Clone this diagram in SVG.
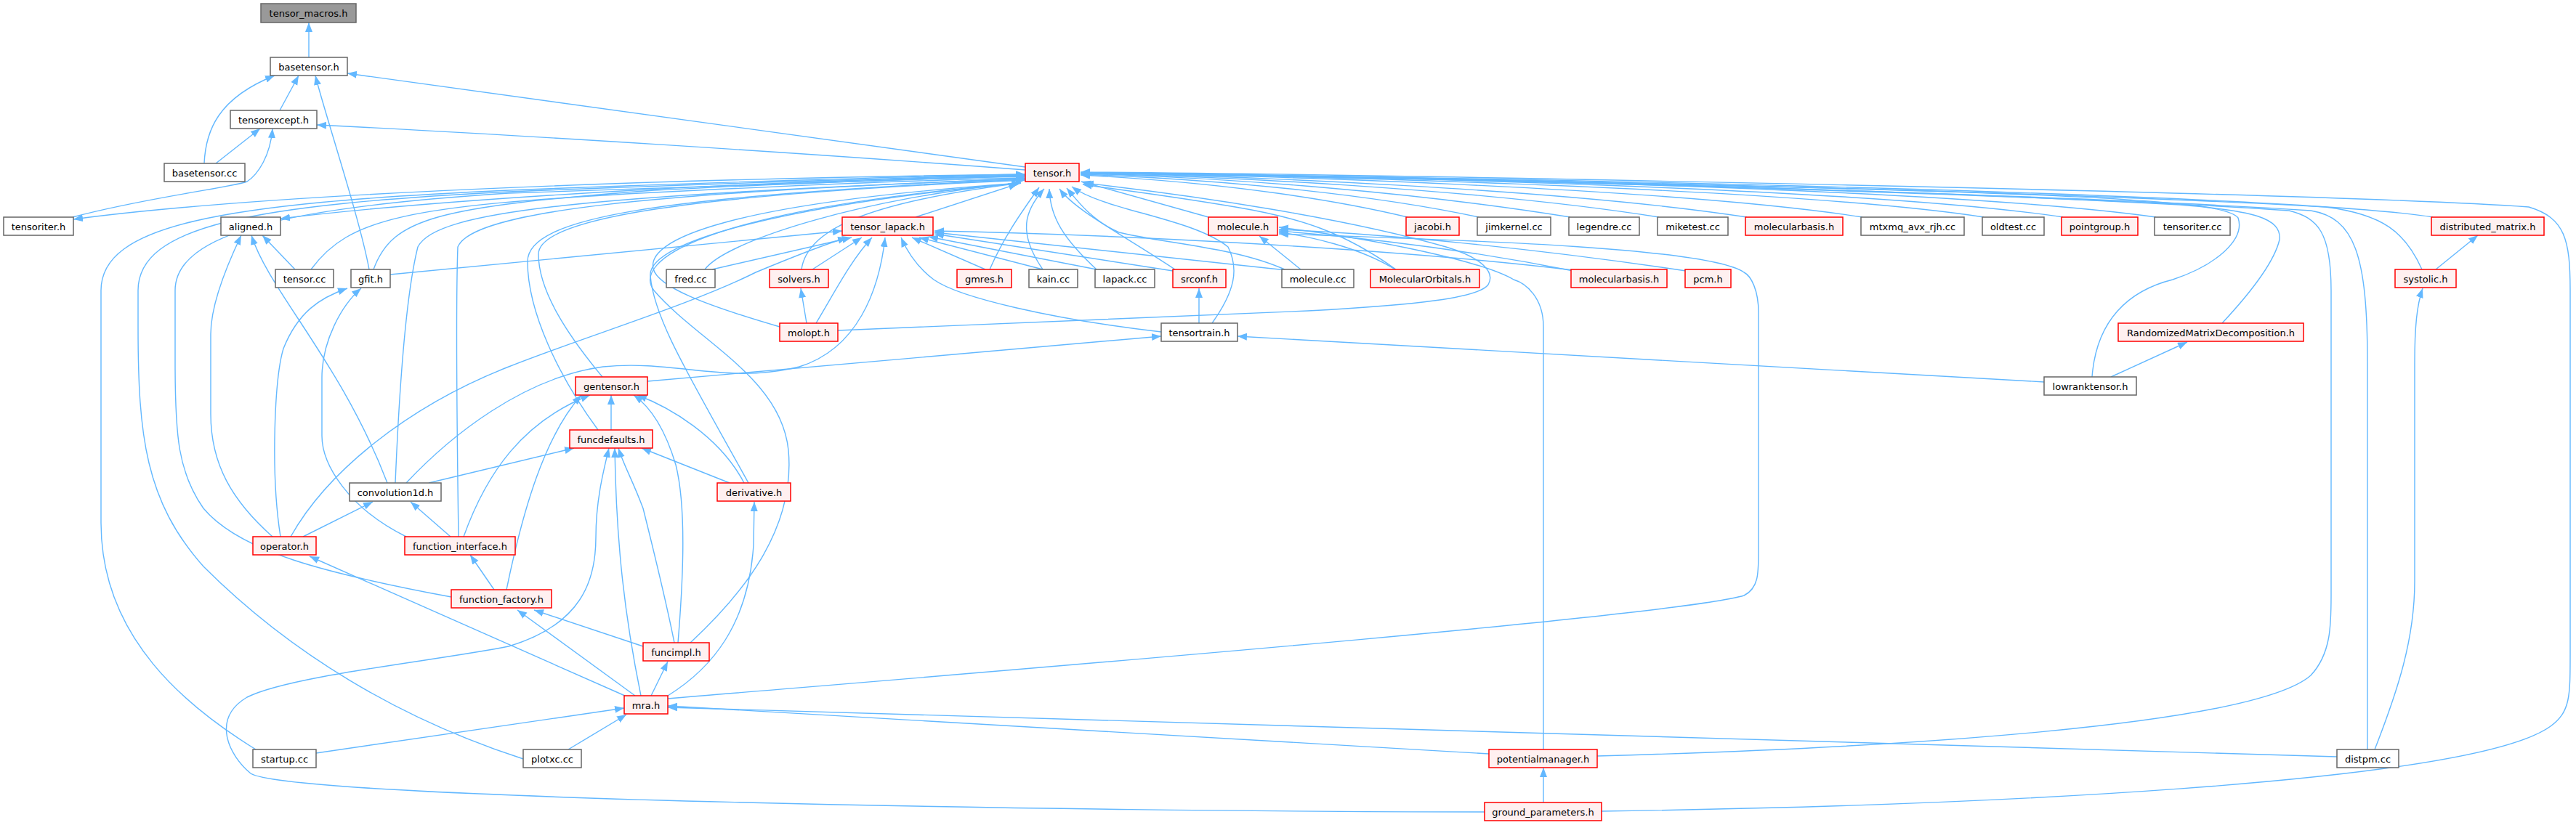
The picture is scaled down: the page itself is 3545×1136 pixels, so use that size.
<svg xmlns="http://www.w3.org/2000/svg" width="3545" height="1136" viewBox="0 0 3545 1136">
<defs>
<style>
.n rect{fill:#ffffff;stroke:#666666;stroke-width:1.5}
.r rect{fill:#fff0f0;stroke:#ff0000;stroke-width:1.5}
.s rect{fill:#999999;stroke:#666666;stroke-width:1.5}
text{font-family:"DejaVu Sans",sans-serif;font-size:13px;text-anchor:middle;fill:#000000}
#edges path{fill:none;stroke:#63b8ff;stroke-width:1.4;marker-end:url(#a)}
</style>
<marker id="a" markerWidth="14" markerHeight="12" refX="13" refY="5" orient="auto" markerUnits="userSpaceOnUse"><path d="M0,0 L13,5 L0,10 z" fill="#63b8ff" stroke="none"/></marker>
</defs>
<rect width="3545" height="1136" fill="#ffffff"/>
<g id="edges">
<path d="M425,79 L425,31"/>
<path d="M385,152 L411,104"/>
<path d="M281,225 C283,180 300,135 378,104"/>
<path d="M297,225 L358,177"/>
<path d="M100,299 C200,272 320,258 340,250 C355,240 372,215 375,177"/>
<path d="M508,371 C495,300 445,150 434,104"/>
<path d="M1411,230 L478,101"/>
<path d="M1411,234 C1100,210 700,185 436,172"/>
<path d="M1411,240 C1000,245 400,262 101,302"/>
<path d="M1411,242 C1000,250 600,275 386,301"/>
<path d="M406,371 L361,324"/>
<path d="M533,665 C470,500 370,400 346,324"/>
<path d="M375,739 C320,690 290,640 290,570 L290,460 C290,420 310,370 332,324"/>
<path d="M428,371 C480,300 560,283 900,265 C1100,255 1300,247 1411,245"/>
<path d="M514,371 C540,300 600,285 900,262 C1100,252 1300,245 1411,243"/>
<path d="M537,378 L1159,318"/>
<path d="M386,739 C372,650 378,520 390,480 C410,430 440,410 478,397"/>
<path d="M559,739 C480,700 443,640 443,600 L443,520 C443,470 470,420 497,397"/>
<path d="M544,665 C550,520 560,400 575,340 C600,290 800,270 1411,246"/>
<path d="M631,739 C629,600 627,420 630,340 C650,290 900,265 1411,246"/>
<path d="M823,592 C770,520 726,430 726,360 C726,300 900,270 1411,247"/>
<path d="M829,519 C780,460 741,400 741,350 C741,300 950,268 1411,248"/>
<path d="M1030,665 C950,520 900,440 895,380 C890,330 1100,280 1405,252"/>
<path d="M950,885 C1020,820 1095,730 1085,620 C1075,520 960,470 900,400 C870,360 960,290 1405,252"/>
<path d="M352,1032 C260,975 139,880 139,720 L139,400 C139,310 300,280 700,262 C1000,250 1300,242 1411,240"/>
<path d="M720,1045 C550,990 400,900 280,780 C200,690 190,600 190,450 L190,400 C190,310 350,282 700,264 C1000,252 1300,243 1411,241"/>
<path d="M621,822 C450,790 330,760 280,700 C245,650 241,600 241,500 L241,400 C241,320 400,285 700,266 C1000,254 1300,244 1411,242"/>
<path d="M970,371 C1000,330 1200,270 1405,252"/>
<path d="M1103,371 C1110,320 1180,280 1405,252"/>
<path d="M1073,450 C970,420 905,395 899,370 C890,330 1000,280 1405,252"/>
<path d="M1260,299 L1401,253"/>
<path d="M1362,371 C1380,330 1400,300 1430,258"/>
<path d="M1435,371 C1400,320 1410,290 1437,260"/>
<path d="M1509,371 C1465,330 1445,300 1444,260"/>
<path d="M1617,371 C1540,320 1480,290 1458,260"/>
<path d="M1668,445 C1700,400 1705,370 1690,340 C1640,300 1520,290 1475,257"/>
<path d="M1663,299 L1488,250"/>
<path d="M1770,372 C1700,340 1600,335 1540,320 C1505,305 1485,280 1468,259"/>
<path d="M1921,371 C1850,320 1790,300 1700,285 C1600,268 1530,260 1490,254"/>
<path d="M1937,299 C1850,278 1700,252 1487,241"/>
<path d="M2035,299 C1900,270 1700,248 1487,240"/>
<path d="M2161,299 C1950,265 1700,245 1487,239"/>
<path d="M2283,299 C2050,262 1700,243 1487,239"/>
<path d="M2404,299 C2150,260 1700,242 1487,238"/>
<path d="M2563,299 C2300,258 1700,240 1487,238"/>
<path d="M2730,299 C2450,256 1700,240 1487,238"/>
<path d="M2839,299 C2550,255 1700,239 1487,238"/>
<path d="M2967,299 C2650,254 1700,239 1487,238"/>
<path d="M3348,299 C3200,275 2500,250 1487,238"/>
<path d="M3333,371 C3310,320 3280,295 3200,285 C2800,262 1900,242 1487,238"/>
<path d="M2879,519 C2885,440 2930,400 2990,385 C3050,365 3090,330 3080,300 C3060,275 2900,262 1487,238"/>
<path d="M3058,445 C3100,400 3130,360 3137,330 C3140,300 3100,290 3000,282 C2600,260 1900,242 1487,238"/>
<path d="M3258,1032 L3258,500 C3258,350 3240,300 3180,290 C2800,265 1900,243 1487,238"/>
<path d="M2198,1041 C2600,1030 3100,1000 3180,930 C3208,900 3208,860 3208,820 L3208,400 C3208,320 3190,300 3150,290 C2800,266 1900,243 1487,238"/>
<path d="M2204,1117 C2700,1110 3400,1080 3510,1000 C3537,980 3537,960 3537,900 L3537,400 C3537,330 3530,300 3480,285 C3200,265 1900,240 1487,237"/>
<path d="M980,371 L1172,327"/>
<path d="M1118,371 L1186,327"/>
<path d="M1123,445 C1150,400 1170,360 1200,327"/>
<path d="M559,665 C620,600 720,520 830,505 C930,495 1000,530 1100,505 C1180,480 1210,400 1218,327"/>
<path d="M400,739 C450,650 560,560 700,505 C800,465 950,420 1040,375 C1100,350 1140,335 1166,327"/>
<path d="M1598,457 C1450,440 1320,410 1285,385 C1265,370 1250,350 1240,327"/>
<path d="M1356,371 L1255,327"/>
<path d="M1435,371 L1265,327"/>
<path d="M1509,371 L1278,326"/>
<path d="M1614,373 L1286,322"/>
<path d="M1770,372 L1286,320"/>
<path d="M2165,372 C1900,340 1500,322 1286,318"/>
<path d="M1790,371 L1733,325"/>
<path d="M1920,371 C1870,340 1800,325 1760,320"/>
<path d="M2165,373 C2000,340 1850,325 1760,318"/>
<path d="M2320,373 C2100,340 1900,322 1760,316"/>
<path d="M1153,455 L1800,428 C1950,420 2035,410 2048,392 C2058,375 2040,355 1990,340 C1850,300 1650,270 1492,252"/>
<path d="M2124,1032 L2124,450 C2124,410 2100,390 2083,385 C2040,360 1900,330 1760,313"/>
<path d="M919,962 C1300,930 2300,850 2400,820 C2420,810 2420,790 2420,760 L2420,430 C2420,400 2410,380 2400,375 C2350,340 2000,330 1760,322"/>
<path d="M1110,445 L1102,397"/>
<path d="M1650,445 L1650,397"/>
<path d="M891,525 L1598,463"/>
<path d="M2813,526 L1703,463"/>
<path d="M2905,519 L3010,471"/>
<path d="M3352,371 L3410,324"/>
<path d="M3268,1032 C3300,950 3323,880 3323,800 L3323,500 C3323,450 3326,420 3334,397"/>
<path d="M3216,1042 L919,974"/>
<path d="M2049,1038 L919,972"/>
<path d="M2124,1105 L2124,1057"/>
<path d="M2043,1118 C1500,1118 400,1100 345,1065 C315,1040 290,990 340,960 C400,930 600,910 700,890 C800,860 820,800 820,740 C820,690 830,650 838,617"/>
<path d="M841,592 L841,544"/>
<path d="M590,665 L790,617"/>
<path d="M620,739 L565,691"/>
<path d="M417,739 L513,691"/>
<path d="M638,739 C670,650 720,580 812,544"/>
<path d="M697,812 C720,700 750,600 800,544"/>
<path d="M680,812 L647,764"/>
<path d="M1004,665 L883,617"/>
<path d="M1024,665 C990,600 920,560 877,544"/>
<path d="M928,885 C915,820 900,760 885,700 C870,660 858,640 851,617"/>
<path d="M933,885 C940,800 945,700 930,640 C915,590 895,560 872,544"/>
<path d="M885,890 L735,840"/>
<path d="M896,958 L919,911"/>
<path d="M919,958 C980,920 1030,860 1037,750 L1038,691"/>
<path d="M860,958 L426,766"/>
<path d="M874,958 L712,840"/>
<path d="M882,958 C860,850 848,750 846,617"/>
<path d="M435,1037 L859,975"/>
<path d="M782,1032 L862,984"/>
</g>
<g id="n0" class="s"><rect x="359" y="5" width="131" height="26"/><text x="424.5" y="23">tensor_macros.h</text></g>
<g id="n1" class="n"><rect x="372" y="79" width="106" height="25"/><text x="425" y="96.5">basetensor.h</text></g>
<g id="n2" class="n"><rect x="317" y="152" width="119" height="25"/><text x="376.5" y="169.5">tensorexcept.h</text></g>
<g id="n3" class="n"><rect x="226" y="225" width="111" height="25"/><text x="281.5" y="242.5">basetensor.cc</text></g>
<g id="n4" class="r"><rect x="1411" y="225" width="74" height="25"/><text x="1448" y="242.5">tensor.h</text></g>
<g id="n5" class="n"><rect x="5" y="299" width="96" height="25"/><text x="53" y="316.5">tensoriter.h</text></g>
<g id="n6" class="n"><rect x="304" y="299" width="82" height="25"/><text x="345" y="316.5">aligned.h</text></g>
<g id="n7" class="r"><rect x="1159" y="299" width="125" height="25"/><text x="1221.5" y="316.5">tensor_lapack.h</text></g>
<g id="n8" class="r"><rect x="1663" y="299" width="95" height="25"/><text x="1710.5" y="316.5">molecule.h</text></g>
<g id="n9" class="r"><rect x="1935" y="299" width="73" height="25"/><text x="1971.5" y="316.5">jacobi.h</text></g>
<g id="n10" class="n"><rect x="2033" y="299" width="101" height="25"/><text x="2083.5" y="316.5">jimkernel.cc</text></g>
<g id="n11" class="n"><rect x="2159" y="299" width="97" height="25"/><text x="2207.5" y="316.5">legendre.cc</text></g>
<g id="n12" class="n"><rect x="2281" y="299" width="97" height="25"/><text x="2329.5" y="316.5">miketest.cc</text></g>
<g id="n13" class="r"><rect x="2402" y="299" width="134" height="25"/><text x="2469" y="316.5">molecularbasis.h</text></g>
<g id="n14" class="n"><rect x="2561" y="299" width="142" height="25"/><text x="2632" y="316.5">mtxmq_avx_rjh.cc</text></g>
<g id="n15" class="n"><rect x="2728" y="299" width="85" height="25"/><text x="2770.5" y="316.5">oldtest.cc</text></g>
<g id="n16" class="r"><rect x="2837" y="299" width="105" height="25"/><text x="2889.5" y="316.5">pointgroup.h</text></g>
<g id="n17" class="n"><rect x="2965" y="299" width="104" height="25"/><text x="3017" y="316.5">tensoriter.cc</text></g>
<g id="n18" class="r"><rect x="3346" y="299" width="155" height="25"/><text x="3423.5" y="316.5">distributed_matrix.h</text></g>
<g id="n19" class="n"><rect x="379" y="371" width="80" height="25"/><text x="419" y="388.5">tensor.cc</text></g>
<g id="n20" class="n"><rect x="483" y="371" width="54" height="25"/><text x="510" y="388.5">gfit.h</text></g>
<g id="n21" class="n"><rect x="917" y="371" width="67" height="25"/><text x="950.5" y="388.5">fred.cc</text></g>
<g id="n22" class="r"><rect x="1059" y="371" width="81" height="25"/><text x="1099.5" y="388.5">solvers.h</text></g>
<g id="n23" class="r"><rect x="1317" y="371" width="75" height="25"/><text x="1354.5" y="388.5">gmres.h</text></g>
<g id="n24" class="n"><rect x="1416" y="371" width="67" height="25"/><text x="1449.5" y="388.5">kain.cc</text></g>
<g id="n25" class="n"><rect x="1507" y="371" width="82" height="25"/><text x="1548" y="388.5">lapack.cc</text></g>
<g id="n26" class="r"><rect x="1614" y="371" width="73" height="25"/><text x="1650.5" y="388.5">srconf.h</text></g>
<g id="n27" class="n"><rect x="1764" y="371" width="99" height="25"/><text x="1813.5" y="388.5">molecule.cc</text></g>
<g id="n28" class="r"><rect x="1886" y="371" width="150" height="25"/><text x="1961" y="388.5">MolecularOrbitals.h</text></g>
<g id="n29" class="r"><rect x="2162" y="371" width="132" height="25"/><text x="2228" y="388.5">molecularbasis.h</text></g>
<g id="n30" class="r"><rect x="2319" y="371" width="63" height="25"/><text x="2350.5" y="388.5">pcm.h</text></g>
<g id="n31" class="r"><rect x="3296" y="371" width="84" height="25"/><text x="3338" y="388.5">systolic.h</text></g>
<g id="n32" class="r"><rect x="1073" y="445" width="80" height="25"/><text x="1113" y="462.5">molopt.h</text></g>
<g id="n33" class="n"><rect x="1598" y="445" width="105" height="25"/><text x="1650.5" y="462.5">tensortrain.h</text></g>
<g id="n34" class="r"><rect x="2915" y="445" width="255" height="25"/><text x="3042.5" y="462.5">RandomizedMatrixDecomposition.h</text></g>
<g id="n35" class="r"><rect x="792" y="519" width="99" height="25"/><text x="841.5" y="536.5">gentensor.h</text></g>
<g id="n36" class="n"><rect x="2813" y="519" width="127" height="25"/><text x="2876.5" y="536.5">lowranktensor.h</text></g>
<g id="n37" class="r"><rect x="784" y="592" width="114" height="25"/><text x="841" y="609.5">funcdefaults.h</text></g>
<g id="n38" class="n"><rect x="481" y="665" width="126" height="25"/><text x="544" y="682.5">convolution1d.h</text></g>
<g id="n39" class="r"><rect x="987" y="665" width="101" height="25"/><text x="1037.5" y="682.5">derivative.h</text></g>
<g id="n40" class="r"><rect x="348" y="739" width="87" height="25"/><text x="391.5" y="756.5">operator.h</text></g>
<g id="n41" class="r"><rect x="557" y="739" width="152" height="25"/><text x="633" y="756.5">function_interface.h</text></g>
<g id="n42" class="r"><rect x="621" y="812" width="138" height="25"/><text x="690" y="829.5">function_factory.h</text></g>
<g id="n43" class="r"><rect x="885" y="885" width="91" height="25"/><text x="930.5" y="902.5">funcimpl.h</text></g>
<g id="n44" class="r"><rect x="859" y="958" width="60" height="25"/><text x="889" y="975.5">mra.h</text></g>
<g id="n45" class="n"><rect x="348" y="1032" width="87" height="25"/><text x="391.5" y="1049.5">startup.cc</text></g>
<g id="n46" class="n"><rect x="720" y="1032" width="80" height="25"/><text x="760" y="1049.5">plotxc.cc</text></g>
<g id="n47" class="r"><rect x="2049" y="1032" width="149" height="25"/><text x="2123.5" y="1049.5">potentialmanager.h</text></g>
<g id="n48" class="n"><rect x="3216" y="1032" width="85" height="25"/><text x="3258.5" y="1049.5">distpm.cc</text></g>
<g id="n49" class="r"><rect x="2043" y="1105" width="161" height="25"/><text x="2123.5" y="1122.5">ground_parameters.h</text></g>
</svg>
